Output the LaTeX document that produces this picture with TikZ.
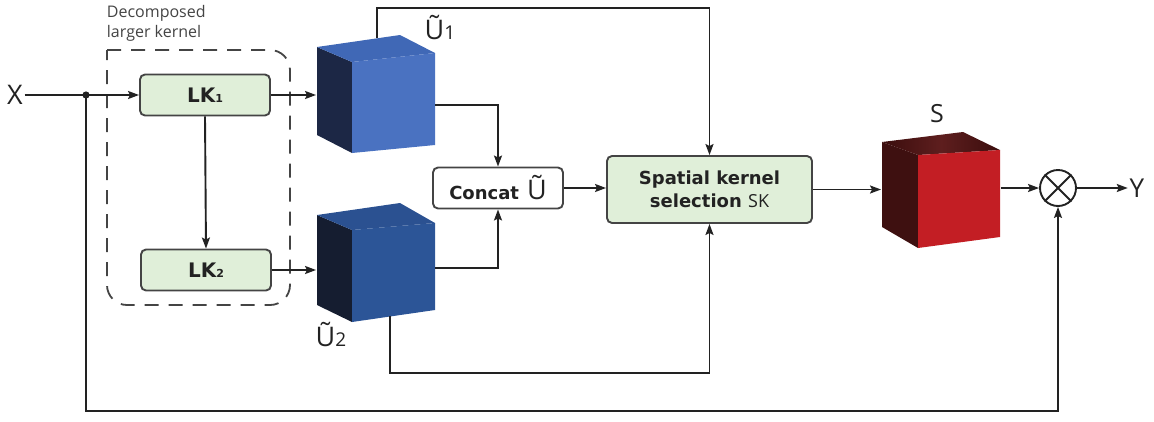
\documentclass[tikz,border=0pt]{standalone}
\usepackage{fontspec}
\setmainfont{Open Sans}
\newfontfamily\boxfont{DejaVu Sans}
\usetikzlibrary{arrows.meta,calc}

\definecolor{ink}{HTML}{222222}
\definecolor{edge}{HTML}{444444}
\definecolor{lkgreen}{HTML}{E0EFD9}
\definecolor{bluefront}{HTML}{4A72C1}
\definecolor{bluetop}{HTML}{4068B6}
\definecolor{blueside}{HTML}{1C2745}
\definecolor{navyfront}{HTML}{2C5597}
\definecolor{navytop}{HTML}{2B5191}
\definecolor{navyside}{HTML}{151D30}
\definecolor{redfront}{HTML}{C31E24}
\definecolor{redtop}{HTML}{3A0D0D}
\definecolor{redmid}{HTML}{5E1E1E}
\definecolor{redside}{HTML}{3E1010}

\begin{document}
\begin{tikzpicture}[x=1pt,y=-1pt,
  line width=1.9pt, draw=ink,
  >={Stealth[length=11pt,width=8pt,inset=2pt]},
  conn/.style={draw=ink,line width=1.9pt},
  blockbox/.style={draw=edge,line width=1.9pt,rounded corners=5pt,inner sep=0pt,
    text=ink,font=\boxfont\bfseries\fontsize{18}{23}\selectfont,align=center},
  lkbox/.style={blockbox,fill=lkgreen,minimum width=130pt,minimum height=41pt,
    font=\boxfont\bfseries\fontsize{20}{23}\selectfont},
  catbox/.style={blockbox,fill=white,minimum width=130pt,minimum height=41pt},
  skbox/.style={blockbox,fill=lkgreen,minimum width=205pt,minimum height=67pt},
  cubearea/.style={inner sep=0pt,draw=none},
  biglabel/.style={inner sep=1pt,text=ink,font=\fontsize{27}{30}\selectfont},
]
\useasboundingbox (0,0) rectangle (1154,421);

% ---- decomposed large-kernel group ----
\draw[edge,line width=1.8pt,dash pattern=on 14pt off 10pt,rounded corners=20pt]
  (107,50) -- (290,50) -- (290,305) -- (107,305) -- (107,50);
\node[anchor=north west,inner sep=0pt,align=left,text=edge,
      font=\fontsize{16}{20}\selectfont] (grouplabel) at (106,4)
  {Decomposed\\larger kernel};

\node[lkbox] (lk1) at (205,95) {LK{\fontsize{11}{11}\selectfont 1}};
\node[lkbox] (lk2) at (206,270) {LK{\fontsize{11}{11}\selectfont 2}};

% ---- feature cubes ----
% U1
\fill[blueside] (317,47) -- (352,62) -- (352,153) -- (317,135) -- cycle;
\fill[bluetop] (317,47) -- (400,35) -- (435,53) -- (352,62) -- cycle;
\fill[bluefront] (352,62) -- (435,53) -- (435,145) -- (352,153) -- cycle;
\node[cubearea,minimum width=118pt,minimum height=118pt] (u1) at (376,94) {};
\coordinate (u1top) at (377,38);
\coordinate (u1right) at (435,105);
% U2
\fill[navyside] (317,215) -- (352,230) -- (352,322) -- (317,305) -- cycle;
\fill[navytop] (317,215) -- (400,203) -- (435,223) -- (352,230) -- cycle;
\fill[navyfront] (352,230) -- (435,223) -- (435,310) -- (352,322) -- cycle;
\node[cubearea,minimum width=118pt,minimum height=118pt] (u2) at (376,270) {};
\coordinate (u2right) at (435,268);
\coordinate (u2bottom) at (390,316);
% S
\fill[redside] (882,142) -- (918,155) -- (918,248) -- (882,227) -- cycle;
\shade[left color=redtop,right color=redtop,middle color=redmid]
  (882,142) -- (963,132) -- (1000,150) -- (918,155) -- cycle;
\fill[redfront] (918,155) -- (1000,150) -- (1000,237) -- (918,248) -- cycle;
\node[cubearea,minimum width=118pt,minimum height=112pt] (s) at (941,188) {};

\node[biglabel] (u1lab) at (440,28) {Ũ{\fontsize{19}{19}\selectfont 1}};
\node[biglabel] (u2lab) at (331,335) {Ũ{\fontsize{19}{19}\selectfont 2}};
\node[biglabel,font=\fontsize{25}{28}\selectfont] (slab) at (937,114) {S};

% ---- concat and selection ----
\node[catbox] (concat) at (498,188)
  {Concat\hspace{8pt}{\rmfamily\mdseries\fontsize{27}{27}\selectfont Ũ}};
\node[skbox] (sk) at (709.5,189.5)
  {Spatial kernel\\selection {\rmfamily\mdseries\fontsize{18}{18}\selectfont SK}};

% ---- product and ends ----
\node[draw=ink,line width=1.9pt,circle,minimum size=36pt,inner sep=0pt] (mul) at (1058,188) {};
\draw[conn] (mul.north west) -- (mul.south east) (mul.north east) -- (mul.south west);

\node[biglabel] (xlab) at (15,95) {X};
\node[biglabel,font=\fontsize{26}{28}\selectfont] (ylab) at (1137,188) {Y};

% ---- connectors ----
\coordinate (split) at (86,95);
\draw[conn,->] (xlab.east) -- (lk1.west);
\fill[ink] (split) circle[radius=3.6pt];
\draw[conn,->] (lk1.south) -- (lk2.north);
\draw[conn,->] (lk1.east) -- (lk1.east -| u1.west);
\draw[conn,->] (lk2.east) -- (lk2.east -| u2.west);
\draw[conn,->] (u1top) -- ++(0,-30) -| (sk.north);
\draw[conn,->] (u1right) -| (concat.north);
\draw[conn,->] (u2right) -| (concat.south);
\draw[conn,->] (u2bottom) -- ++(0,57) -| (sk.south);
\draw[conn,->] (concat.east) -- (concat.east -| sk.west);
\draw[conn,->] (sk.east) -- (sk.east -| s.west);
\draw[conn,->] (s.east |- mul) -- (mul.west);
\draw[conn,->] (mul.east) -- (ylab.west);
\draw[conn,->] (split) -- ++(0,316) -| (mul.south);
\end{tikzpicture}
\end{document}
